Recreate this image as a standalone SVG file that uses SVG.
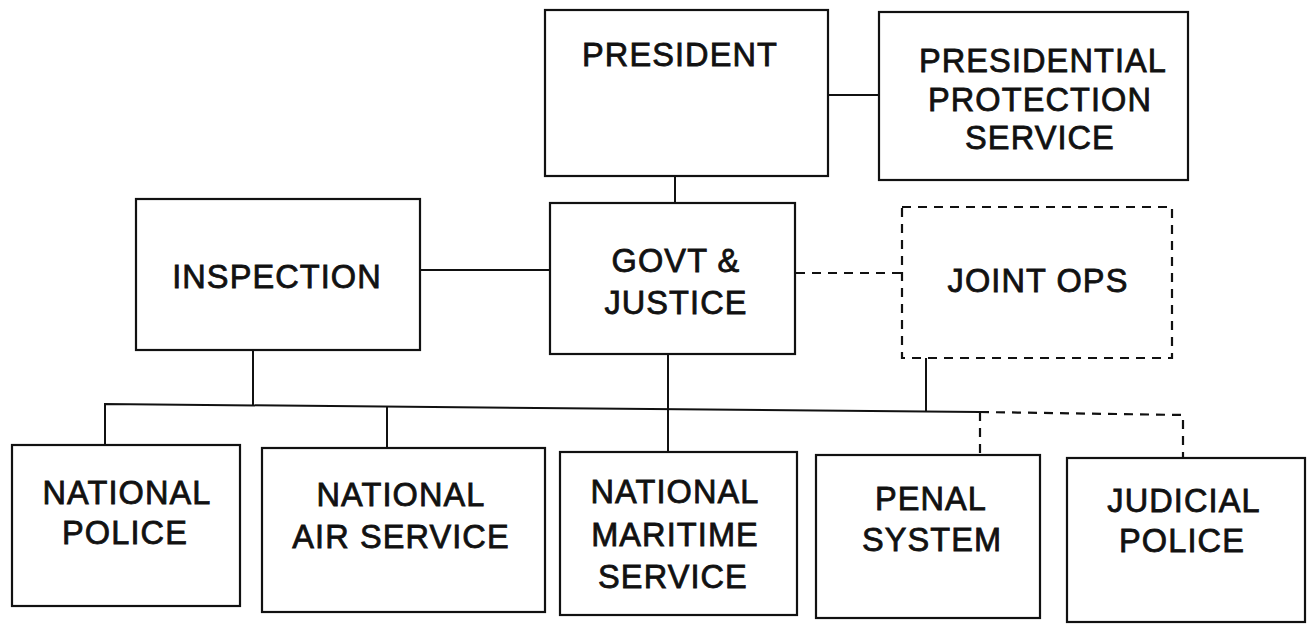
<svg xmlns="http://www.w3.org/2000/svg" width="1310" height="629" viewBox="0 0 1310 629">
  <style>
    .box { fill: #fff; stroke: #111; stroke-width: 2.2; }
    .dash { fill: none; stroke: #111; stroke-width: 2.2; stroke-dasharray: 9 7; }
    .line { fill: none; stroke: #111; stroke-width: 2; }
    text { font-family: "Liberation Sans", Arial, Helvetica, sans-serif; font-size: 32.5px; fill: #111; stroke: #111; stroke-width: 0.8; letter-spacing: 1.1px; text-anchor: middle; }
  </style>
  <rect width="1310" height="629" fill="#fff"/>

  <!-- connectors -->
  <g id="connectors">
    <line class="line" x1="827" y1="95" x2="879" y2="95"/>
    <line class="line" x1="675" y1="176" x2="675" y2="204"/>
    <line class="line" x1="420" y1="270" x2="551" y2="270"/>
    <line class="dash" x1="796" y1="273" x2="902" y2="273"/>
    <line class="line" x1="253" y1="350" x2="253" y2="406"/>
    <line class="line" x1="668" y1="355" x2="668" y2="452"/>
    <line class="line" x1="926" y1="358" x2="926" y2="411"/>
    <polyline class="line" points="105,446 105,404 980,412"/>
    <line class="line" x1="387" y1="406" x2="387" y2="448"/>
    <polyline class="dash" points="980,412 1183,415 1183,458"/>
    <line class="dash" x1="980" y1="412" x2="980" y2="455"/>
  </g>

  <g id="president">
    <rect class="box" x="545" y="10" width="283" height="166"/>
    <text x="680" y="66">PRESIDENT</text>
  </g>

  <g id="presidential-protection">
    <rect class="box" x="879" y="12" width="309" height="168"/>
    <text x="1043" y="72">PRESIDENTIAL</text>
    <text x="1040" y="111">PROTECTION</text>
    <text x="1040" y="149">SERVICE</text>
  </g>

  <g id="inspection">
    <rect class="box" x="136" y="199" width="284" height="151"/>
    <text x="277" y="288">INSPECTION</text>
  </g>

  <g id="govt-justice">
    <rect class="box" x="550" y="203" width="245" height="151"/>
    <text x="676" y="272">GOVT &amp;</text>
    <text x="676" y="314">JUSTICE</text>
  </g>

  <g id="joint-ops">
    <rect class="dash" x="902" y="207" width="270" height="151"/>
    <text x="1038" y="292">JOINT OPS</text>
  </g>

  <g id="national-police">
    <rect class="box" x="12" y="445" width="228" height="161"/>
    <text x="127" y="504">NATIONAL</text>
    <text x="125" y="544">POLICE</text>
  </g>

  <g id="national-air-service">
    <rect class="box" x="262" y="448" width="283" height="164"/>
    <text x="401" y="506">NATIONAL</text>
    <text x="401" y="548">AIR SERVICE</text>
  </g>

  <g id="national-maritime-service">
    <rect class="box" x="560" y="452" width="237" height="163"/>
    <text x="675" y="503">NATIONAL</text>
    <text x="675" y="546">MARITIME</text>
    <text x="673" y="588">SERVICE</text>
  </g>

  <g id="penal-system">
    <rect class="box" x="816" y="455" width="224" height="163"/>
    <text x="931" y="510">PENAL</text>
    <text x="932" y="551">SYSTEM</text>
  </g>

  <g id="judicial-police">
    <rect class="box" x="1067" y="458" width="238" height="164"/>
    <text x="1184" y="512">JUDICIAL</text>
    <text x="1182" y="552">POLICE</text>
  </g>
</svg>
